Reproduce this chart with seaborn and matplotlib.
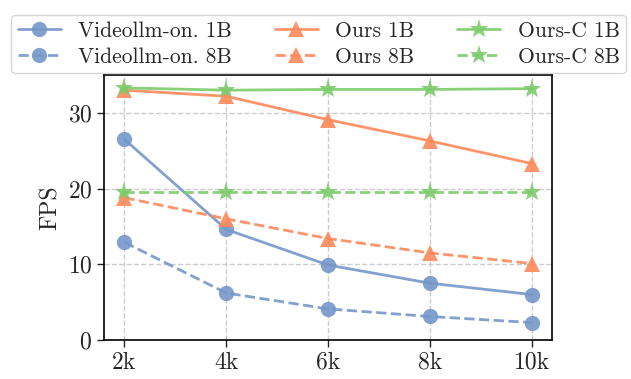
import numpy as np
import pandas as pd
import matplotlib
matplotlib.use("Agg")
import matplotlib.pyplot as plt
import seaborn as sns

# data
lengths = [2, 4, 6, 8, 10]
tick_labels = ["2k", "4k", "6k", "8k", "10k"]
videollm_1b = [26.5, 14.6, 9.9, 7.5, 6.0]
videollm_8b = [12.9, 6.2, 4.1, 3.1, 2.3]
ours_1b = [33.0, 32.2, 29.1, 26.3, 23.3]
ours_8b = [18.8, 16.0, 13.4, 11.5, 10.1]
oursc_1b = [33.3, 33.0, 33.1, 33.1, 33.2]
oursc_8b = [19.5, 19.5, 19.5, 19.5, 19.5]

sns.set_style("ticks")
plt.rcParams["font.family"] = ["cmr10", "DejaVu Serif"]
plt.rcParams["mathtext.fontset"] = "cm"
plt.rcParams["axes.formatter.use_mathtext"] = True

blue = "#7597c9"
orange = "#fd8a5c"
green = "#7ccb6b"

series = [
    ("Videollm-on. 1B", videollm_1b, blue, "o", "-"),
    ("Videollm-on. 8B", videollm_8b, blue, "o", "--"),
    ("Ours 1B", ours_1b, orange, "^", "-"),
    ("Ours 8B", ours_8b, orange, "^", "--"),
    ("Ours-C 1B", oursc_1b, green, "*", "-"),
    ("Ours-C 8B", oursc_8b, green, "*", "--"),
]

fig = plt.figure(figsize=(6.31, 3.79), dpi=100)
ax = fig.add_axes([0.165, 0.103, 0.710, 0.699])

for name, vals, col, mk, ls in series:
    df = pd.DataFrame({"len": lengths, "fps": vals})
    ms = 14 if mk == "*" else 11
    sns.lineplot(data=df, x="len", y="fps", ax=ax, color=col, marker=mk,
                 markersize=ms, markeredgewidth=0, linewidth=2, linestyle=ls,
                 alpha=0.9, label=name)

ax.set_ylim(0, 35)
ax.set_yticks([0, 10, 20, 30])
ax.set_xticks(lengths)
ax.set_xticklabels(tick_labels)
ax.tick_params(labelsize=17, length=5, width=1)
ax.set_xlabel("")
ax.set_ylabel("FPS", fontsize=17)
ax.grid(True, linestyle="--", color="#cccccc", linewidth=1)
for s in ax.spines.values():
    s.set_linewidth(1.2)
    s.set_color("black")

handles, labels = ax.get_legend_handles_labels()
ax.get_legend().remove()
fig.legend(handles, labels, ncol=3, loc="upper center",
           bbox_to_anchor=(0.505, 0.99), fontsize=15.5, frameon=True,
           columnspacing=2.0, handlelength=2, borderpad=0.3, labelspacing=0.3)

fig.savefig("out.png", dpi=100)
